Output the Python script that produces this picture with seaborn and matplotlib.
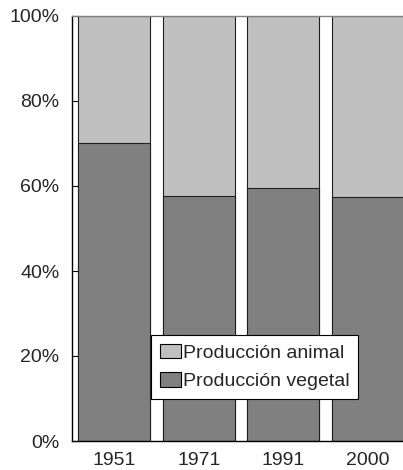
import matplotlib
matplotlib.use("Agg")
import matplotlib.pyplot as plt
import pandas as pd
import seaborn as sns
from matplotlib.patches import Patch
from matplotlib.ticker import PercentFormatter

years = ["1951", "1971", "1991", "2000"]
vegetal = [70.2, 57.6, 59.6, 57.5]
animal = [100 - v for v in vegetal]

COLOR_ANIMAL = "#c0c0c0"
COLOR_VEGETAL = "#808080"

sns.set_theme(style="white")
plt.rcParams["font.family"] = ["Liberation Sans", "DejaVu Sans"]

df = pd.DataFrame({"year": years, "vegetal": vegetal, "animal": animal})
df["total"] = df["vegetal"] + df["animal"]

fig = plt.figure(figsize=(4.03, 4.70), dpi=100)
ax = fig.add_axes([72 / 403, 29 / 470, 338 / 403, 425 / 470])

sns.barplot(data=df, x="year", y="total", color=COLOR_ANIMAL, width=0.85,
            saturation=1, edgecolor="#202020", linewidth=0.8, ax=ax)
sns.barplot(data=df, x="year", y="vegetal", color=COLOR_VEGETAL, width=0.85,
            saturation=1, edgecolor="#202020", linewidth=0.8, ax=ax)

ax.set_xlim(-0.5, 3.5)
ax.set_ylim(0, 100)
ax.set_yticks([0, 20, 40, 60, 80, 100])
ax.yaxis.set_major_formatter(PercentFormatter(decimals=0))
ax.set_xlabel("")
ax.set_ylabel("")
ax.tick_params(axis="y", direction="in", length=6, width=0.8, color="black",
               labelsize=14, pad=9, left=True)
ax.tick_params(axis="x", length=0, labelsize=14, pad=8)

for side in ["left", "bottom"]:
    ax.spines[side].set_color("black")
    ax.spines[side].set_linewidth(1.0)
ax.spines["top"].set_color("#808080")
ax.spines["top"].set_linewidth(1.0)
ax.spines["right"].set_visible(False)

handles = [
    Patch(facecolor=COLOR_ANIMAL, edgecolor="black", linewidth=0.8, label="Producción animal"),
    Patch(facecolor=COLOR_VEGETAL, edgecolor="black", linewidth=0.8, label="Producción vegetal"),
]
leg = ax.legend(handles=handles, loc="upper left",
                bbox_to_anchor=((151 - 72) / 338, (441 - 335) / 425),
                fontsize=14, frameon=True, fancybox=False, framealpha=1,
                edgecolor="black", borderpad=0.45, labelspacing=0.55,
                handlelength=1.1, handleheight=0.75, handletextpad=0.1,
                borderaxespad=0)
leg.get_frame().set_linewidth(0.8)

fig.savefig("out.png", dpi=100, facecolor="white")
